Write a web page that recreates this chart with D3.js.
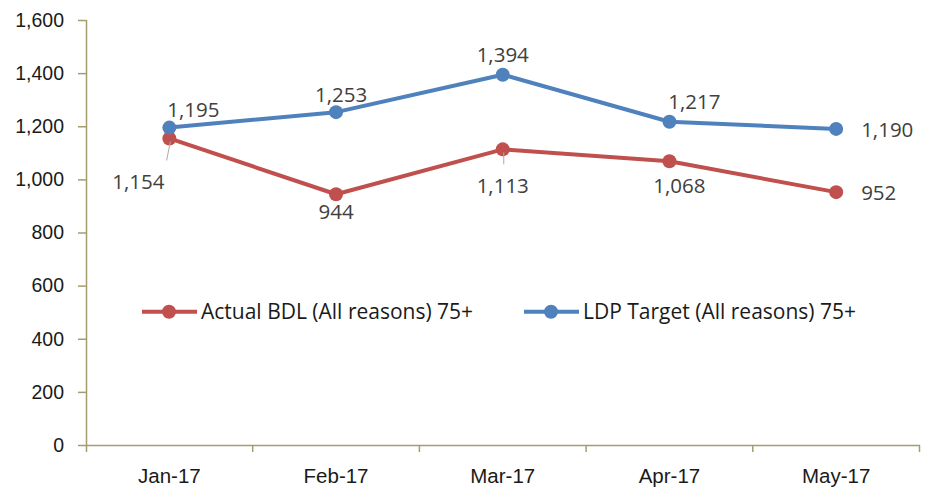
<!DOCTYPE html>
<html>
<head>
<meta charset="utf-8">
<script src="https://cdn.jsdelivr.net/npm/d3@7"></script>
<style>
  body { margin: 0; background: #fff; }
  svg { font-family: "Open Sans", Lato, sans-serif; }
</style>
</head>
<body>
<div id="chart"></div>
<script>
// chart data
var months = ["Jan-17", "Feb-17", "Mar-17", "Apr-17", "May-17"];
var actual = [1154, 944, 1113, 1068, 952];
var target = [1195, 1253, 1394, 1217, 1190];
var yTicks = [0, 200, 400, 600, 800, 1000, 1200, 1400, 1600];
var seriesNames = ["Actual BDL (All reasons) 75+", "LDP Target (All reasons) 75+"];

// label placement (style only)
var actualLabelPos = [{dx: -31, dy: 43, a: "middle", lead: true}, {dx: 0, dy: 18, a: "middle"}, {dx: 0, dy: 36, a: "middle", lead: true}, {dx: 10, dy: 25, a: "middle"}, {dx: 25, dy: 1, a: "start"}];
var targetLabelPos = [{dx: 24, dy: -18, a: "middle"}, {dx: 5, dy: -17, a: "middle"}, {dx: 0, dy: -20, a: "middle"}, {dx: 25, dy: -20, a: "middle"}, {dx: 25, dy: 1, a: "start"}];

var W = 925, H = 490;
var margin = {top: 20, right: 5, bottom: 45, left: 86};
var width = W - margin.left - margin.right,
    height = H - margin.top - margin.bottom;

var svg = d3.select("#chart").append("svg")
  .attr("width", W).attr("height", H)
  .append("g")
  .attr("transform", "translate(" + margin.left + "," + margin.top + ")");

var x = d3.scaleBand().domain(months).range([0, width - 0.5]);
var y = d3.scaleLinear().domain([0, 1600]).range([height, 0]);
var axisColor = "#A59D6B";
var fmt = d3.format(",");

// y axis
var yAx = svg.append("g")
  .call(d3.axisLeft(y).tickValues(yTicks).tickSize(8).tickPadding(14).tickFormat(fmt));
yAx.select(".domain").attr("stroke", axisColor).attr("stroke-width", 1.5).attr("d", "M0.5," + height + "V0");
yAx.selectAll(".tick line").attr("stroke", axisColor).attr("stroke-width", 1.5);
yAx.selectAll("text").attr("font-size", 19.5).attr("fill", "#1a1a1a");

// x axis
var xAx = svg.append("g").attr("transform", "translate(0," + height + ")")
  .call(d3.axisBottom(x).tickSize(0).tickPadding(23));
xAx.select(".domain").attr("stroke", axisColor).attr("stroke-width", 1.5).attr("d", "M0," + 0.5 + "H" + width);
xAx.selectAll("text").attr("font-size", 20.5).attr("fill", "#1a1a1a");
var bounds = months.map(function(m) { return x(m); }).concat([x(months[4]) + x.bandwidth()]);
svg.append("g").selectAll("line").data(bounds.slice(1)).enter().append("line")
  .attr("x1", function(d) { return d; }).attr("x2", function(d) { return d; })
  .attr("y1", height).attr("y2", height + 7)
  .attr("stroke", axisColor).attr("stroke-width", 1.5);
svg.append("line").attr("x1", 0.5).attr("x2", 0.5).attr("y1", height).attr("y2", height + 7)
  .attr("stroke", axisColor).attr("stroke-width", 1.5);

var cx = function(i) { return x(months[i]) + x.bandwidth() / 2; };
var line = d3.line().x(function(d, i) { return cx(i); }).y(function(d) { return y(d); });

function drawSeries(vals, color) {
  svg.append("path").datum(vals)
    .attr("d", line).attr("fill", "none")
    .attr("stroke", color).attr("stroke-width", 4).attr("stroke-linejoin", "round");
  svg.append("g").selectAll("circle").data(vals).enter().append("circle")
    .attr("cx", function(d, i) { return cx(i); })
    .attr("cy", function(d) { return y(d); })
    .attr("r", 7).attr("fill", color);
}

function drawLabels(vals, pos) {
  var g = svg.append("g");
  vals.forEach(function(v, i) {
    var p = pos[i];
    if (p.lead) {
      g.append("line")
        .attr("x1", cx(i) + 1).attr("y1", y(v) + 3)
        .attr("x2", cx(i) + p.dx * 0.12 + 1).attr("y2", y(v) + p.dy - 21)
        .attr("stroke", "#aaa").attr("stroke-width", 1);
    }
    g.append("text")
      .attr("x", cx(i) + p.dx).attr("y", y(v) + p.dy)
      .attr("dy", "0.35em").attr("text-anchor", p.a)
      .attr("font-size", 20.5).attr("fill", "#404040")
      .text(fmt(v));
  });
}

drawSeries(actual, "#C0504D");
drawSeries(target, "#4F81BD");
drawLabels(actual, actualLabelPos);
drawLabels(target, targetLabelPos);

// legend
var legend = svg.append("g").attr("transform", "translate(0," + (y(500) - 0.5) + ")");
var legX = [56, 438];
var legColors = ["#C0504D", "#4F81BD"];
seriesNames.forEach(function(name, i) {
  var lg = legend.append("g").attr("transform", "translate(" + legX[i] + ",0)");
  lg.append("line").attr("x1", 0).attr("x2", 55).attr("stroke", legColors[i]).attr("stroke-width", 4);
  lg.append("circle").attr("cx", 27).attr("r", 7).attr("fill", legColors[i]);
  lg.append("text").attr("x", 59).attr("dy", "0.35em").attr("font-size", 21).attr("fill", "#1a1a1a").text(name);
});
</script>
</body>
</html>
